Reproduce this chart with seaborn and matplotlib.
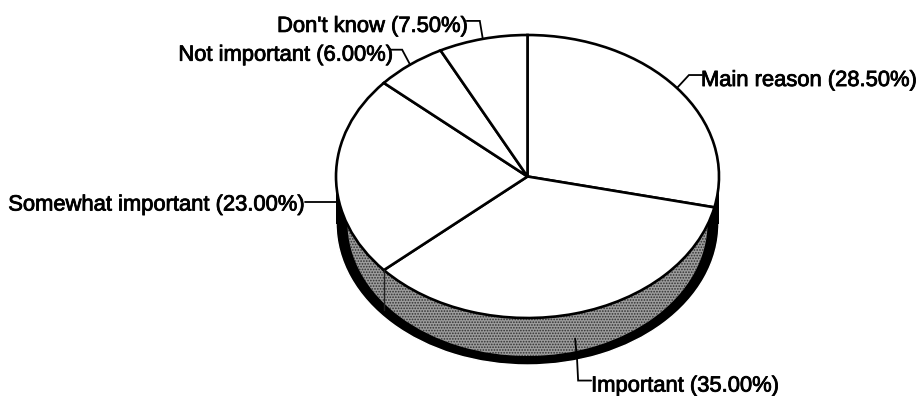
import numpy as np
import matplotlib
matplotlib.use("Agg")
import matplotlib.pyplot as plt
import matplotlib.patheffects as pe
import seaborn as sns

categories = ["Main reason", "Important", "Somewhat important", "Not important", "Don't know"]
values = [28.5, 35.0, 23.0, 6.0, 7.5]

W, H = 920, 396
CX, CY, RX, RY = 527.5, 176.5, 191.5, 141.5
DEPTH = 47

sns.set_theme(style="white")
plt.rcParams['font.family'] = ['Liberation Sans', 'DejaVu Sans']
plt.rcParams['hatch.linewidth'] = 0.8

fig = plt.figure(figsize=(W / 100, H / 100), dpi=100)
ax = fig.add_axes([0, 0, 1, 1])


def to_data(px, py):
    return (px - CX) / RX, (CY - py) / RY


d = DEPTH / RY
# side of the drum: black base, stippled inner band
ax.pie([1], radius=1, center=(0, -d), startangle=90, colors=["black"])
xs = np.array([-1.0, 1.0])
ax.fill_between(xs, -d, 0, color="black", lw=0)
ax.pie([1], radius=0.94, center=(0, -46.5 / RY), startangle=90, colors=["#9c9c9c"],
       wedgeprops=dict(hatch="......", edgecolor="#303030", linewidth=0))

# top face
ax.pie(values, radius=1, center=(0, 0), startangle=90, counterclock=False,
       colors=["white"] * len(values),
       wedgeprops=dict(edgecolor="black", linewidth=1.9))

fractions = np.array(values) / sum(values)
ends = np.cumsum(fractions)
mids = ends - fractions / 2


def rim(frac):
    a = 2 * np.pi * frac
    return np.sin(a), np.cos(a)


# slice boundary on the side wall
bx, by = rim(ends[1])
ax.plot([bx, bx], [by, by - 40 / RY], color="#222222", lw=1.0)

# leader lines: rim offset down, waypoints as pixel steps, label alignment and offsets
leaders = {
    "Main reason": (0, [(12, -13), (25, -13)], "left", -1, -3),
    "Important": (25, [(2, 22), (3, 42), (16, 42)], "left", 0, -3),
    "Somewhat important": (25, [(-31, 0)], "right", 0, -1),
    "Not important": (0, [(-8, -15), (-20, -15)], "right", 3, -3),
    "Don't know": (0, [(-3, -18), (-16, -18)], "right", 1, -3),
}
for cat, mid in zip(categories, mids):
    down, steps, ha, gap, lift = leaders[cat]
    sx, sy = rim(mid)
    px0 = CX + sx * RX
    py0 = CY - sy * RY + down
    pts = [to_data(px0, py0)] + [to_data(px0 + a, py0 + b) for a, b in steps]
    ax.plot([p[0] for p in pts], [p[1] for p in pts], color="black", lw=1.3,
            solid_joinstyle="miter", zorder=5)
    lx, ly = pts[-1]
    val = values[categories.index(cat)]
    t = ax.annotate(f"{cat} ({val:.2f}%)", xy=(lx, ly), xytext=(gap, lift),
                    textcoords="offset pixels", ha=ha, va="center_baseline",
                    fontsize=15.8, color="black", zorder=6)
    t.set_path_effects([pe.withStroke(linewidth=0.6, foreground="black")])

ax.set_aspect("auto")
ax.set_xlim(-CX / RX, (W - CX) / RX)
ax.set_ylim((CY - H) / RY, CY / RY)
ax.set_axis_off()

fig.savefig("out.png", dpi=100, facecolor="white")
